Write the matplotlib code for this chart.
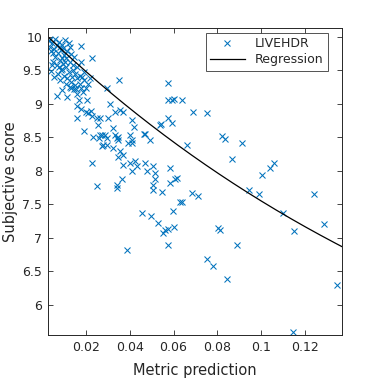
import numpy as np
import matplotlib
matplotlib.use("Agg")
import matplotlib.pyplot as plt

# Scatter data (metric prediction, subjective score)
metric = [
    # dense top-left cluster
    0.0030, 0.0045, 0.0060, 0.0075, 0.0090, 0.0105, 0.0120, 0.0031,
    0.0040, 0.0055, 0.0070, 0.0085, 0.0100, 0.0115, 0.0130, 0.0145, 0.0090,
    0.0050, 0.0065, 0.0080, 0.0095, 0.0110, 0.0125, 0.0140, 0.0160, 0.0175,
    0.0039, 0.0070, 0.0085, 0.0100, 0.0120, 0.0135, 0.0150, 0.0170, 0.0190,
    0.0080, 0.0110, 0.0130, 0.0150, 0.0170, 0.0190, 0.0210,
    0.0035, 0.0050, 0.0065, 0.0080, 0.0095, 0.0110, 0.0125, 0.0060, 0.0075,
    0.0090, 0.0105, 0.0115, 0.0140, 0.0160, 0.0180, 0.0145, 0.0125, 0.0220,
    0.0185, 0.0205, 0.0045, 0.0055,
    0.0176, 0.0226, 0.0351,
    # around 9.2 - 8.5
    0.0069, 0.0112, 0.0092, 0.0130, 0.0153, 0.0176, 0.0199, 0.0160, 0.0168,
    0.0158, 0.0179, 0.0199, 0.0209, 0.0221, 0.0229, 0.0160, 0.0252, 0.0255,
    0.0191, 0.0233, 0.0259,
    0.0295, 0.0310, 0.0332, 0.0355, 0.0370, 0.0302, 0.0409, 0.0419, 0.0538,
    0.0264, 0.0325, 0.0332, 0.0287, 0.0347, 0.0401, 0.0465, 0.0264, 0.0295,
    0.0347, 0.0409, 0.0393, 0.0279, 0.0492, 0.0576, 0.0576,
    0.0272, 0.0340, 0.0409, 0.0469,
    # around 8.4 - 7.7
    0.0272, 0.0295, 0.0322, 0.0355, 0.0370, 0.0347, 0.0226, 0.0370, 0.0401,
    0.0424, 0.0432, 0.0409, 0.0469, 0.0477, 0.0507, 0.0515, 0.0515, 0.0507,
    0.0507, 0.0546, 0.0584, 0.0584, 0.0606, 0.0252, 0.0340, 0.0340, 0.0363,
    # lower middle
    0.0454, 0.0495, 0.0530, 0.0561, 0.0576, 0.0602, 0.0599, 0.0629, 0.0576,
    0.0386, 0.0553,
    # right side
    0.0576, 0.0591, 0.0602, 0.0640, 0.0690, 0.0754, 0.0541, 0.0594, 0.0660,
    0.0820, 0.0835, 0.0911, 0.0865, 0.1002, 0.1040, 0.1058, 0.0946, 0.0991,
    0.1242, 0.0614, 0.0683, 0.0713, 0.0637,
    0.0804, 0.0812, 0.0891, 0.0751, 0.0781, 0.0845, 0.1098, 0.1150, 0.1287,
    0.1345, 0.1147,
]
score = [
    9.95, 9.90, 9.97, 9.92, 9.88, 9.95, 9.90, 9.94,
    9.78, 9.82, 9.75, 9.80, 9.72, 9.78, 9.74, 9.70, 9.68,
    9.62, 9.58, 9.65, 9.60, 9.55, 9.62, 9.58, 9.55, 9.62,
    9.49, 9.45, 9.50, 9.42, 9.47, 9.40, 9.45, 9.42, 9.48,
    9.35, 9.30, 9.33, 9.28, 9.30, 9.35, 9.30,
    9.85, 9.75, 9.88, 9.85, 9.83, 9.68, 9.85, 9.70, 9.55,
    9.52, 9.63, 9.38, 9.50, 9.38, 9.40, 9.22, 9.25, 9.38,
    9.18, 9.05, 9.58, 9.40,
    9.86, 9.68, 9.36,
    9.12, 9.10, 9.21, 9.23, 9.22, 9.24, 9.23, 9.14, 9.06,
    8.96, 8.92, 8.88, 8.86, 8.89, 8.82, 8.79, 8.79, 8.69,
    8.59, 8.51, 8.49,
    9.24, 8.99, 8.88, 8.91, 8.88, 8.79, 8.76, 8.66, 8.69,
    8.79, 8.64, 8.54, 8.54, 8.51, 8.54, 8.55, 8.54, 8.49,
    8.46, 8.46, 8.41, 8.39, 8.46, 9.06, 8.79,
    8.54, 8.49, 8.42, 8.55,
    8.37, 8.39, 8.34, 8.29, 8.24, 8.21, 8.12, 8.09, 8.12,
    8.14, 8.07, 7.99, 8.12, 7.99, 8.07, 7.97, 7.87, 7.79,
    7.72, 7.69, 8.04, 7.82, 7.87, 7.77, 7.79, 7.74, 7.87,
    7.37, 7.33, 7.22, 7.11, 7.13, 7.16, 7.40, 7.54, 6.90,
    6.82, 7.07,
    9.31, 9.06, 9.07, 9.06, 8.88, 8.86, 8.70, 8.72, 8.39,
    8.52, 8.47, 8.41, 8.17, 7.94, 8.04, 8.11, 7.71, 7.66,
    7.66, 7.89, 7.67, 7.62, 7.53,
    7.15, 7.12, 6.89, 6.69, 6.58, 6.38, 7.37, 7.10, 7.20,
    6.29, 5.60,
]

# Regression curve parameters: a + b * exp(-c * x)
reg_a, reg_b, reg_c = 3.10, 6.98, 4.5

xticks = [0.02, 0.04, 0.06, 0.08, 0.10, 0.12]
xticklabels = ["0.02", "0.04", "0.06", "0.08", "0.1", "0.12"]
yticks = [6, 6.5, 7, 7.5, 8, 8.5, 9, 9.5, 10]
yticklabels = ["6", "6.5", "7", "7.5", "8", "8.5", "9", "9.5", "10"]

plt.rcParams['font.family'] = ['DejaVu Sans']
ax_color = '#262626'

fig = plt.figure(figsize=(3.78, 3.78), dpi=100)
ax = fig.add_axes([48/378, 1 - 335/378, (342 - 48)/378, (335 - 28)/378])

ax.plot(metric, score, linestyle='none', marker='x', color='#0072BD',
        markersize=5.0, markeredgewidth=0.75, label='LIVEHDR')

xs = np.linspace(0.0026, 0.137, 300)
ax.plot(xs, reg_a + reg_b * np.exp(-reg_c * xs), color='black', linewidth=0.9,
        label='Regression')

ax.set_xlim(0.0026, 0.137)
ax.set_ylim(5.55, 10.13)
ax.set_xticks(xticks)
ax.set_xticklabels(xticklabels)
ax.set_yticks(yticks)
ax.set_yticklabels(yticklabels)
ax.tick_params(direction='in', length=3.5, width=0.6, colors=ax_color,
               labelsize=9, top=True, right=True, pad=4)
for s in ax.spines.values():
    s.set_color(ax_color)
    s.set_linewidth(0.7)

ax.set_xlabel('Metric prediction', fontsize=10.5, color=ax_color, labelpad=7)
ax.set_ylabel('Subjective score', fontsize=10.5, color=ax_color, labelpad=3)

leg = ax.legend(loc='upper right', bbox_to_anchor=(0.952, 0.984), fontsize=9,
                frameon=True, fancybox=False,
                edgecolor=ax_color, borderpad=0.35, handlelength=2.8,
                borderaxespad=0.0, labelspacing=0.25, handletextpad=0.8)
leg.get_frame().set_linewidth(0.7)
for t in leg.get_texts():
    t.set_color(ax_color)

fig.savefig('out.png', dpi=100)
